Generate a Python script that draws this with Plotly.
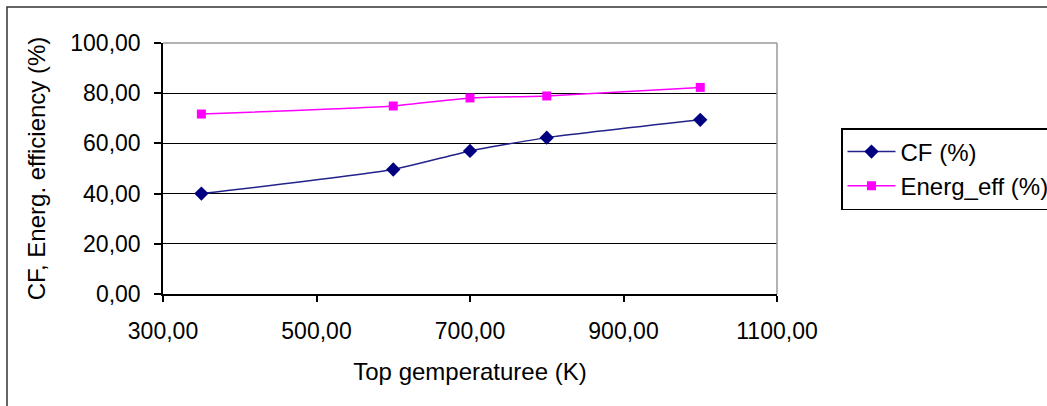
import plotly.graph_objects as go

temps = [350, 600, 700, 800, 1000]
cf = [40.0, 49.6, 57.0, 62.3, 69.4]
energ_eff = [71.7, 74.9, 78.1, 78.9, 82.3]

x_ticks = [300, 500, 700, 900, 1100]
y_ticks = [0, 20, 40, 60, 80, 100]

W, H = 1047, 406
L, R, T, B = 163, 1047 - 777, 43, 406 - 294
pw, ph = W - L - R, H - T - B

def px_x(p):
    return (p - L) / pw

def px_y(p):
    return (H - B - p) / ph

fig = go.Figure()
fig.add_trace(go.Scatter(
    x=temps, y=cf, name="CF (%)", mode="lines+markers",
    line=dict(color="#22228a", width=1.5, shape="spline", smoothing=0.5),
    marker=dict(symbol="diamond", size=11, color="#000080"),
))
fig.add_trace(go.Scatter(
    x=temps, y=energ_eff, name="Energ_eff (%)", mode="lines+markers",
    line=dict(color="#ff00ff", width=1.5, shape="spline", smoothing=0.5),
    marker=dict(symbol="square", size=9, color="#ff00ff"),
))

fam = "Liberation Sans, Arial, sans-serif"
tick_font = dict(family=fam, size=23, color="#000000")
font = dict(family=fam, size=24, color="#000000")

fig.update_layout(
    width=W, height=H,
    margin=dict(l=L, r=R, t=T, b=B, pad=0, autoexpand=False),
    paper_bgcolor="white", plot_bgcolor="white",
    font=font,
    separators=",.",
    showlegend=True,
    legend=dict(
        x=px_x(841), y=px_y(128), xanchor="left", yanchor="top",
        bordercolor="#000000", borderwidth=1.5, bgcolor="white",
        font=font, itemwidth=48, tracegroupgap=0,
    ),
    xaxis=dict(
        range=[300, 1100], tickvals=x_ticks, tickformat=".2f",
        showgrid=False, zeroline=False,
        showline=True, linecolor="#000000", linewidth=1.5,
        ticks="outside", ticklen=6, tickcolor="#000000", tickwidth=1.5,
        ticklabelstandoff=10,
        title=dict(text="Top gemperaturee (K)", font=font, standoff=20),
        tickfont=tick_font,
    ),
    yaxis=dict(
        range=[0, 100], tickvals=y_ticks, tickformat=".2f",
        showgrid=True, gridcolor="#000000", gridwidth=1.2, zeroline=False,
        showline=True, linecolor="#000000", linewidth=1.5,
        ticks="outside", ticklen=7, tickcolor="#000000", tickwidth=1.5,
        ticklabelstandoff=9,
        title=dict(text="CF, Energ. efficiency (%)", font=font, standoff=18),
        tickfont=tick_font,
    ),
    shapes=[
        dict(type="line", xref="paper", yref="paper", x0=0, x1=1, y0=1, y1=1,
             line=dict(color="#999999", width=1.5)),
        dict(type="line", xref="paper", yref="paper", x0=1, x1=1, y0=0, y1=1,
             line=dict(color="#999999", width=1.5)),
        dict(type="rect", xref="paper", yref="paper",
             x0=px_x(7), x1=px_x(1060), y0=px_y(7), y1=px_y(420),
             line=dict(color="#333333", width=1.5), layer="below"),
    ],
)

fig.write_html("out.html")
